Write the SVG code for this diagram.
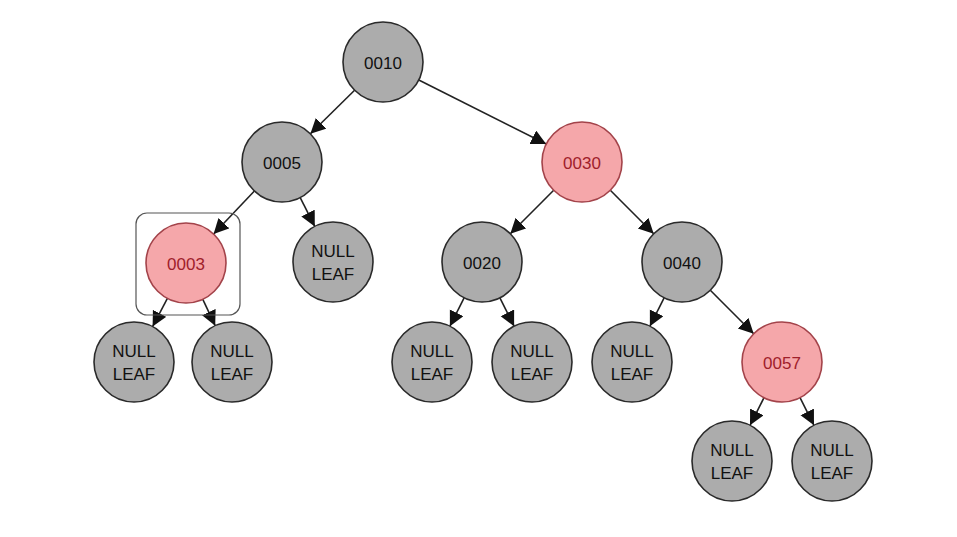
<svg xmlns="http://www.w3.org/2000/svg" width="957" height="537" viewBox="0 0 957 537">
<style>
.g circle{fill:#acacac;stroke:#2a2a2a;stroke-width:1.6}
.r circle{fill:#f5a7aa;stroke:#a3434a;stroke-width:1.6}
text{font-family:"Liberation Sans",Arial,sans-serif;font-size:17px;text-anchor:middle}
.g text{fill:#111}
.r text{fill:#a0202a}
.e line{stroke:#222;stroke-width:1.6;marker-end:url(#ah)}
</style>
<defs>
<marker id="ah" markerUnits="userSpaceOnUse" markerWidth="16" markerHeight="16" refX="15" refY="7.5" orient="auto">
<path d="M0,0 L15,7.5 L0,15 Z" fill="#111"/>
</marker>
</defs>
<rect width="957" height="537" fill="#fff"/>
<g id="edges" class="e">
<line x1="354.6" y1="90.2" x2="310.4" y2="133.8"/>
<line x1="418.8" y1="80" x2="546.2" y2="144"/>
<line x1="254.4" y1="191" x2="213.6" y2="234"/>
<line x1="300.2" y1="197.6" x2="314.8" y2="226.4"/>
<line x1="553.7" y1="190.3" x2="510.3" y2="233.7"/>
<line x1="610.3" y1="190.3" x2="653.7" y2="233.7"/>
<line x1="167.4" y1="298.4" x2="152.6" y2="326.6"/>
<line x1="202.8" y1="299.3" x2="215.2" y2="325.7"/>
<line x1="464.1" y1="297.8" x2="449.9" y2="326.2"/>
<line x1="499.9" y1="297.8" x2="514.1" y2="326.2"/>
<line x1="664.1" y1="297.8" x2="649.9" y2="326.2"/>
<line x1="710.3" y1="290.3" x2="753.7" y2="333.7"/>
<line x1="764" y1="397.7" x2="750" y2="425.3"/>
<line x1="800" y1="397.7" x2="814" y2="425.3"/>
</g>
<g id="n0010" class="g"><circle cx="383" cy="62" r="40"/><text x="383" y="69">0010</text></g>
<g id="n0005" class="g"><circle cx="282" cy="162" r="40"/><text x="282" y="169">0005</text></g>
<g id="n0030" class="r"><circle cx="582" cy="162" r="40"/><text x="582" y="169">0030</text></g>
<g id="sel"><rect x="136" y="213" width="104" height="102" rx="11" fill="none" stroke="#555" stroke-width="1.2"/></g>
<g id="n0003" class="r"><circle cx="186" cy="263" r="40"/><text x="186" y="270">0003</text></g>
<g id="null1" class="g"><circle cx="333" cy="262" r="40"/><text x="333" y="257">NULL</text><text x="333" y="280">LEAF</text></g>
<g id="n0020" class="g"><circle cx="482" cy="262" r="40"/><text x="482" y="269">0020</text></g>
<g id="n0040" class="g"><circle cx="682" cy="262" r="40"/><text x="682" y="269">0040</text></g>
<g id="null2" class="g"><circle cx="134" cy="362" r="40"/><text x="134" y="357">NULL</text><text x="134" y="380">LEAF</text></g>
<g id="null3" class="g"><circle cx="232" cy="362" r="40"/><text x="232" y="357">NULL</text><text x="232" y="380">LEAF</text></g>
<g id="null4" class="g"><circle cx="432" cy="362" r="40"/><text x="432" y="357">NULL</text><text x="432" y="380">LEAF</text></g>
<g id="null5" class="g"><circle cx="532" cy="362" r="40"/><text x="532" y="357">NULL</text><text x="532" y="380">LEAF</text></g>
<g id="null6" class="g"><circle cx="632" cy="362" r="40"/><text x="632" y="357">NULL</text><text x="632" y="380">LEAF</text></g>
<g id="n0057" class="r"><circle cx="782" cy="362" r="40"/><text x="782" y="369">0057</text></g>
<g id="null7" class="g"><circle cx="732" cy="461" r="40"/><text x="732" y="456">NULL</text><text x="732" y="479">LEAF</text></g>
<g id="null8" class="g"><circle cx="832" cy="461" r="40"/><text x="832" y="456">NULL</text><text x="832" y="479">LEAF</text></g>
</svg>
